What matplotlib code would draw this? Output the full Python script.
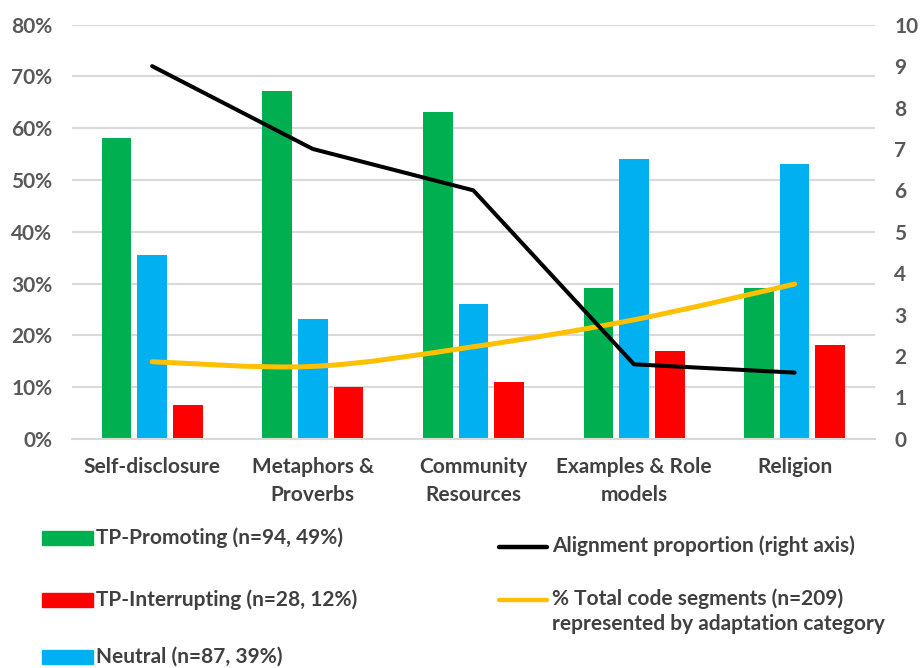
import matplotlib
matplotlib.use("Agg")
import matplotlib.pyplot as plt
import numpy as np
from matplotlib.path import Path
from matplotlib.patches import PathPatch, Rectangle
from matplotlib.lines import Line2D

categories = ["Self-disclosure", "Metaphors &\nProverbs", "Community\nResources",
              "Examples & Role\nmodels", "Religion"]
promoting = [58.2, 67.2, 63.1, 29.1, 29.1]
neutral = [35.5, 23.1, 26.1, 54.1, 53.1]
interrupting = [6.5, 10.0, 11.0, 17.0, 18.1]
alignment = [9.0, 7.0, 6.0, 1.8, 1.6]          # right axis
total_share = [14.9, 14.0, 17.8, 23.0, 29.9]    # left axis, %

plt.rcParams['font.family'] = ['Lato', 'DejaVu Sans']
txt = '#404040'
tick_c = '#595959'
grid_c = '#d9d9d9'
fs = 15

fig = plt.figure(figsize=(9.21, 6.68), dpi=100)
ax = fig.add_axes([0.078, 0.343, 0.872, 0.620])
ax2 = ax.twinx()

x = np.arange(len(categories))
w = 0.185
step = 0.222
ax.bar(x - step, promoting, w, color='#00b050', zorder=2)
ax.bar(x, neutral, w, color='#00b0f0', zorder=2)
ax.bar(x + step, interrupting, w, color='#ff0000', zorder=2)

# smooth line (Excel style) through the share points
pts = np.column_stack([x, total_share]).astype(float)
ext = np.vstack([pts[0], pts, pts[-1]])
verts = [tuple(pts[0])]
codes = [Path.MOVETO]
for i in range(len(pts) - 1):
    p0, p1, p2, p3 = ext[i], ext[i + 1], ext[i + 2], ext[i + 3]
    c1 = p1 + (p2 - p0) / 6
    c2 = p2 - (p3 - p1) / 6
    verts += [tuple(c1), tuple(c2), tuple(p2)]
    codes += [Path.CURVE4] * 3
ax.add_patch(PathPatch(Path(verts, codes), fill=False, edgecolor='#ffc000',
                       lw=3.6, capstyle='round', zorder=3))

ax2.plot(x, alignment, color='black', lw=2.9, solid_capstyle='round', zorder=4)

ax.set_xlim(-0.5, len(categories) - 0.5)
ax.set_ylim(0, 80)
ax2.set_ylim(0, 10)
ax.set_yticks(range(0, 81, 10))
ax.set_yticklabels([f"{v}%" for v in range(0, 81, 10)])
ax2.set_yticks(range(0, 11))
ax.set_xticks(x)
ax.set_xticklabels(categories, fontsize=fs, fontweight='bold', color=txt, linespacing=1.5)
ax.tick_params(axis='x', length=0, pad=13)
ax.tick_params(axis='y', length=0, pad=14, labelsize=fs, labelcolor=tick_c)
ax2.tick_params(axis='y', length=0, pad=14, labelsize=fs, labelcolor=tick_c)
for lab in ax.get_yticklabels() + ax2.get_yticklabels():
    lab.set_fontweight('bold')

ax.yaxis.grid(True, color=grid_c, lw=1.5, zorder=0)
ax.set_axisbelow(True)
for a in (ax, ax2):
    for s in a.spines.values():
        s.set_visible(False)
ax.spines['bottom'].set_visible(True)
ax.spines['bottom'].set_color(grid_c)
ax.spines['bottom'].set_linewidth(1.5)

# legend, laid out by hand
W, H = 921, 668
def fx(px):
    return px / W
def fy(py):
    return 1 - py / H

bar_items = [('#00b050', 'TP-Promoting (n=94, 49%)', 538),
             ('#ff0000', 'TP-Interrupting (n=28, 12%)', 600),
             ('#00b0f0', 'Neutral (n=87, 39%)', 657)]
for col, label, py in bar_items:
    fig.add_artist(Rectangle((fx(42), fy(py + 7)), fx(51), 14 / H,
                             color=col, transform=fig.transFigure))
    fig.text(fx(96), fy(py), label, fontsize=fs, fontweight='bold',
             color=txt, va='center', ha='left')

line_items = [('black', 'Alignment proportion (right axis)', 547),
              ('#ffc000', '% Total code segments (n=209)\nrepresented by adaptation category', 600)]
for col, label, py in line_items:
    fig.add_artist(Line2D([fx(499), fx(547)], [fy(py), fy(py)], color=col,
                          lw=3.2, solid_capstyle='round', transform=fig.transFigure))
    fig.text(fx(552), fy(py - 12), label, fontsize=fs, fontweight='bold',
             color=txt, va='top', ha='left', linespacing=1.35)

fig.savefig('out.png', dpi=100)
